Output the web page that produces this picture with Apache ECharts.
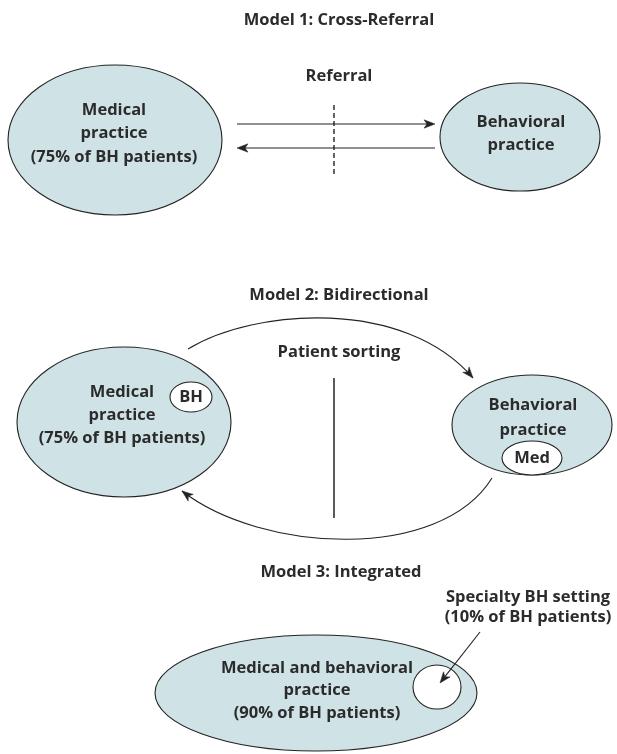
<!DOCTYPE html>
<html>
<head>
<meta charset="utf-8">
<script src="https://cdn.jsdelivr.net/npm/echarts@6/dist/echarts.min.js"></script>
<style>
  html, body { margin: 0; padding: 0; background: #ffffff; }
  #chart { width: 617px; height: 754px; }
</style>
</head>
<body>
<div id="chart"></div>
<script>
// ---- Diagram data (in diagram units, mapped through hidden value axes) ----
// Text labels: [x, y, text]
const labels = [
  [339, 20, 'Model 1: Cross-Referral'],
  [339, 76, 'Referral'],
  [114, 110, 'Medical'],
  [114, 133, 'practice'],
  [114, 157, '(75% of BH patients)'],
  [521, 122, 'Behavioral'],
  [521, 145, 'practice'],
  [339, 295, 'Model 2: Bidirectional'],
  [339, 352, 'Patient sorting'],
  [122, 392, 'Medical'],
  [122, 415, 'practice'],
  [122, 438, '(75% of BH patients)'],
  [191, 397, 'BH'],
  [533, 405, 'Behavioral'],
  [533, 430, 'practice'],
  [532, 458, 'Med'],
  [341, 572, 'Model 3: Integrated'],
  [528, 597, 'Specialty BH setting'],
  [528, 617, '(10% of BH patients)'],
  [317, 668, 'Medical and behavioral'],
  [317, 690, 'practice'],
  [317, 713, '(90% of BH patients)']
];
// Practice ellipses: [cx, cy, rx, ry]
const practiceNodes = [
  [115, 140, 107, 75],
  [520, 137, 80, 54],
  [124, 422, 107, 75],
  [532, 425, 80, 50],
  [316, 693, 161, 58]
];
// Inset (white) ellipses: [cx, cy, rx, ry]
const insetNodes = [
  [191, 397, 21, 15],
  [532, 458, 30, 17],
  [437, 687, 24, 22]
];
// Straight arrows: [x1, y1, x2, y2] (head at second point)
const straightArrows = [
  [237, 124, 435, 124],
  [435, 148, 237, 148],
  [480, 632, 440, 683]
];
// Curved arrows (cubic): [x0, y0, c1x, c1y, c2x, c2y, x3, y3]
const curvedArrows = [
  [188, 349, 255, 308, 405, 298, 473, 378],
  [492, 478, 440, 562, 262, 553, 182, 491]
];
// Vertical dividers: [x, y1, y2, dashed(1)/solid(0)]
const dividers = [
  [334, 105, 174, 1],
  [334, 378, 518, 0]
];

// ---- Styles ----
const INK = '#232323';
const FILL = '#cfe3e6';
const FONT = 'bold 16.5px "Open Sans", "Noto Sans", sans-serif';

function arrowHead(tip, dir) {
  const len = 11, half = 4.2, notch = 3;
  const n = Math.hypot(dir[0], dir[1]);
  const ux = dir[0] / n, uy = dir[1] / n;
  const px = -uy, py = ux;
  const bx = tip[0] - ux * len, by = tip[1] - uy * len;
  const nx = tip[0] - ux * (len - notch), ny = tip[1] - uy * (len - notch);
  return {
    type: 'polygon',
    shape: { points: [tip, [bx + px * half, by + py * half], [nx, ny], [bx - px * half, by - py * half]] },
    style: { fill: INK, stroke: INK, lineWidth: 0.5 }
  };
}

function ellipseRenderer(arr, fill) {
  return function (params, api) {
    const d = arr[params.dataIndex];
    const c = api.coord([d[0], d[1]]);
    const s = api.size([d[2], d[3]]);
    return {
      type: 'ellipse',
      shape: { cx: c[0], cy: c[1], rx: Math.abs(s[0]), ry: Math.abs(s[1]) },
      style: { fill: fill, stroke: INK, lineWidth: 1.1 }
    };
  };
}

const chart = echarts.init(document.getElementById('chart'), null, { renderer: 'canvas' });
chart.setOption({
  animation: false,
  backgroundColor: '#ffffff',
  grid: { left: 0, right: 0, top: 0, bottom: 0 },
  xAxis: { type: 'value', min: 0, max: 617, show: false },
  yAxis: { type: 'value', min: 0, max: 754, inverse: true, show: false },
  series: [
    {
      type: 'custom', silent: true, clip: false, z: 1,
      data: practiceNodes.map(d => [d[0], d[1]]),
      encode: { x: 0, y: 1 },
      renderItem: ellipseRenderer(practiceNodes, FILL)
    },
    {
      type: 'custom', silent: true, clip: false, z: 2,
      data: insetNodes.map(d => [d[0], d[1]]),
      encode: { x: 0, y: 1 },
      renderItem: ellipseRenderer(insetNodes, '#ffffff')
    },
    {
      type: 'custom', silent: true, clip: false, z: 3,
      data: dividers.map(d => [d[0], d[1]]),
      encode: { x: 0, y: 1 },
      renderItem: function (params, api) {
        const d = dividers[params.dataIndex];
        const a = api.coord([d[0], d[1]]);
        const b = api.coord([d[0], d[2]]);
        return {
          type: 'line',
          shape: { x1: a[0], y1: a[1], x2: b[0], y2: b[1] },
          style: { stroke: INK, lineWidth: d[3] ? 1.4 : 1.5, lineDash: d[3] ? [5, 3] : null }
        };
      }
    },
    {
      type: 'custom', silent: true, clip: false, z: 3,
      data: straightArrows.map(d => [d[0], d[1]]),
      encode: { x: 0, y: 1 },
      renderItem: function (params, api) {
        const d = straightArrows[params.dataIndex];
        const a = api.coord([d[0], d[1]]);
        const b = api.coord([d[2], d[3]]);
        const dir = [b[0] - a[0], b[1] - a[1]];
        const n = Math.hypot(dir[0], dir[1]);
        const e = [b[0] - dir[0] / n * 8, b[1] - dir[1] / n * 8];
        return {
          type: 'group',
          children: [
            { type: 'line', shape: { x1: a[0], y1: a[1], x2: e[0], y2: e[1] }, style: { stroke: INK, lineWidth: 1.1 } },
            arrowHead(b, dir)
          ]
        };
      }
    },
    {
      type: 'custom', silent: true, clip: false, z: 3,
      data: curvedArrows.map(d => [d[0], d[1]]),
      encode: { x: 0, y: 1 },
      renderItem: function (params, api) {
        const d = curvedArrows[params.dataIndex];
        const p0 = api.coord([d[0], d[1]]);
        const c1 = api.coord([d[2], d[3]]);
        const c2 = api.coord([d[4], d[5]]);
        const p3 = api.coord([d[6], d[7]]);
        const dir = [p3[0] - c2[0], p3[1] - c2[1]];
        return {
          type: 'group',
          children: [
            {
              type: 'bezierCurve',
              shape: { x1: p0[0], y1: p0[1], cpx1: c1[0], cpy1: c1[1], cpx2: c2[0], cpy2: c2[1], x2: p3[0], y2: p3[1] },
              style: { stroke: INK, lineWidth: 1.1, fill: null }
            },
            arrowHead(p3, dir)
          ]
        };
      }
    },
    {
      type: 'custom', silent: true, clip: false, z: 5,
      data: labels.map(d => [d[0], d[1]]),
      encode: { x: 0, y: 1 },
      renderItem: function (params, api) {
        const d = labels[params.dataIndex];
        const c = api.coord([d[0], d[1]]);
        return {
          type: 'text',
          x: c[0], y: c[1],
          style: { text: d[2], fill: '#2b2b2b', font: FONT, align: 'center', verticalAlign: 'middle' }
        };
      }
    }
  ]
});
</script>
</body>
</html>
